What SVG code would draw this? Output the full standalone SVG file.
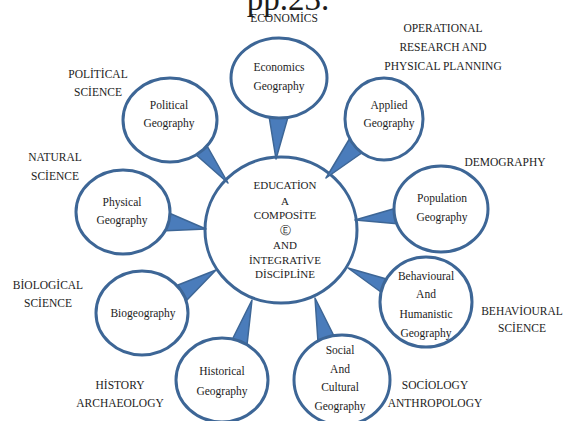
<svg xmlns="http://www.w3.org/2000/svg" width="565" height="421" viewBox="0 0 565 421">
  <style>
    text { font-family: "Liberation Serif", "DejaVu Serif", serif; fill: #1c1c1c; text-anchor: middle; }
    .lbl { font-size: 11.5px; }
    .node { font-size: 11.5px; }
    .core { font-size: 11px; }
    .ring { fill: #ffffff; stroke: #3d6696; stroke-width: 3; }
    .tail { fill: #4a7cbb; stroke: #3d6696; stroke-width: 1.5; stroke-linejoin: round; }
  </style>

  <!-- page reference cut at the top edge -->
  <text x="288" y="10" style="font-size:33px">pp.23.</text>

  <!-- outer discipline labels -->
  <g id="labels">
    <text class="lbl" x="284" y="22">ECONOMİCS</text>
    <text class="lbl" x="443" y="32">OPERATIONAL</text>
    <text class="lbl" x="443" y="51">RESEARCH AND</text>
    <text class="lbl" x="443" y="70">PHYSICAL PLANNING</text>
    <text class="lbl" x="505" y="166">DEMOGRAPHY</text>
    <text class="lbl" x="522" y="315">BEHAVİOURAL</text>
    <text class="lbl" x="522" y="332">SCİENCE</text>
    <text class="lbl" x="435" y="389">SOCİOLOGY</text>
    <text class="lbl" x="435" y="407">ANTHROPOLOGY</text>
    <text class="lbl" x="120" y="389">HİSTORY</text>
    <text class="lbl" x="120" y="407">ARCHAEOLOGY</text>
    <text class="lbl" x="48" y="289">BİOLOGİCAL</text>
    <text class="lbl" x="48" y="307">SCİENCE</text>
    <text class="lbl" x="55" y="161">NATURAL</text>
    <text class="lbl" x="55" y="180">SCİENCE</text>
    <text class="lbl" x="98" y="78">POLİTİCAL</text>
    <text class="lbl" x="98" y="96">SCİENCE</text>
  </g>

  <!-- central node -->
  <g id="education">
    <ellipse class="ring" cx="281" cy="230" rx="76" ry="73"/>
    <text class="core" x="285" y="189">EDUCATİON</text>
    <text class="core" x="285" y="205">A</text>
    <text class="core" x="285" y="219">COMPOSİTE</text>
    <text class="core" x="285" y="234">Ⓔ</text>
    <text class="core" x="285" y="249">AND</text>
    <text class="core" x="285" y="264">İNTEGRATİVE</text>
    <text class="core" x="285" y="278">DİSCİPLİNE</text>
  </g>

  <!-- callout tails pointing from each field to the centre -->
  <g id="connectors">
    <polygon class="tail" points="268,110 290,110 276,159"/>
    <polygon class="tail" points="350,138 366,150 326,178"/>
    <polygon class="tail" points="194,153 206,144 228,183"/>
    <polygon class="tail" points="162,210 160,231 206,229"/>
    <polygon class="tail" points="178,285 187,300 216,270"/>
    <polygon class="tail" points="231,342 247,345 252,300"/>
    <polygon class="tail" points="318,342 336,340 315,298"/>
    <polygon class="tail" points="390,280 385,295 348,268"/>
    <polygon class="tail" points="400,207 400,224 355,220"/>
  </g>

  <g id="economics">
    <ellipse class="ring" cx="279" cy="78" rx="48" ry="40"/>
    <text class="node" x="279" y="71">Economics</text>
    <text class="node" x="279" y="90">Geography</text>
  </g>

  <g id="applied">
    <ellipse class="ring" cx="384" cy="119" rx="39" ry="41"/>
    <text class="node" x="389" y="109">Applied</text>
    <text class="node" x="389" y="127">Geography</text>
  </g>

  <g id="political">
    <ellipse class="ring" cx="170" cy="120" rx="47" ry="42"/>
    <text class="node" x="169" y="109">Political</text>
    <text class="node" x="169" y="127">Geography</text>
  </g>

  <g id="physical">
    <ellipse class="ring" cx="123" cy="212" rx="47" ry="42"/>
    <text class="node" x="122" y="206">Physical</text>
    <text class="node" x="122" y="224">Geography</text>
  </g>

  <g id="biogeography">
    <ellipse class="ring" cx="142" cy="313" rx="46" ry="42"/>
    <text class="node" x="143" y="317">Biogeography</text>
  </g>

  <g id="historical">
    <ellipse class="ring" cx="222" cy="380" rx="46" ry="42"/>
    <text class="node" x="222" y="375">Historical</text>
    <text class="node" x="222" y="395">Geography</text>
  </g>

  <g id="social">
    <ellipse class="ring" cx="342" cy="380" rx="48" ry="45"/>
    <text class="node" x="340" y="354">Social</text>
    <text class="node" x="340" y="373">And</text>
    <text class="node" x="340" y="391">Cultural</text>
    <text class="node" x="340" y="410">Geography</text>
  </g>

  <g id="behavioural">
    <ellipse class="ring" cx="426" cy="302" rx="46" ry="45"/>
    <text class="node" x="426" y="280">Behavioural</text>
    <text class="node" x="426" y="298">And</text>
    <text class="node" x="426" y="318">Humanistic</text>
    <text class="node" x="426" y="337">Geography</text>
  </g>

  <g id="population">
    <ellipse class="ring" cx="441" cy="209" rx="47" ry="43"/>
    <text class="node" x="442" y="202">Population</text>
    <text class="node" x="442" y="221">Geography</text>
  </g>
</svg>
